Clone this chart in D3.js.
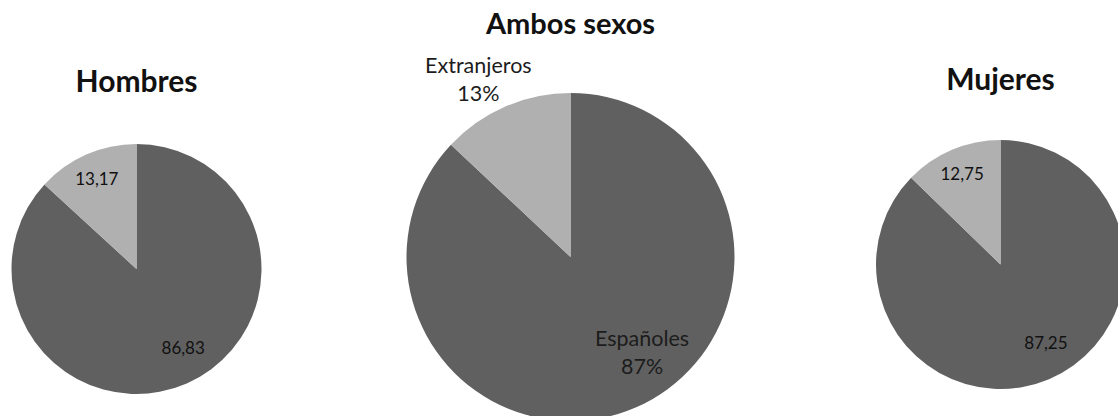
<!DOCTYPE html>
<html lang="es">
<head>
<meta charset="utf-8">
<script src="https://cdn.jsdelivr.net/npm/d3@7"></script>
<style>
  html, body { margin: 0; padding: 0; background: #ffffff; }
  svg { display: block; }
</style>
</head>
<body>
<svg id="chart" width="1118" height="416"></svg>
<script>
// Población según nacionalidad (%)
const categories = ["Españoles", "Extranjeros"];
const hombres = [86.83, 13.17];
const ambos = [87, 13];
const mujeres = [87.25, 12.75];
const titles = ["Hombres", "Ambos sexos", "Mujeres"];

const svg = d3.select("#chart");
const color = d3.scaleOrdinal().domain(categories).range(["#606060", "#b0b0b0"]);
const font = "Lato, 'Open Sans', sans-serif";

const pie = d3.pie().sort(null).value(d => d.value);

// Layout of the three pies
const panels = [
  { title: titles[0], values: hombres, cx: 136.5, cy: 269, r: 125, titleY: 92, titleSize: 30, mode: "value" },
  { title: titles[1], values: ambos, cx: 570.5, cy: 257, r: 164, titleY: 34, titleSize: 29, mode: "category" },
  { title: titles[2], values: mujeres, cx: 1000.5, cy: 264.5, r: 124.5, titleY: 90, titleSize: 30, mode: "value" }
];

const fmt = v => d3.format(".2f")(v).replace(".", ",");

panels.forEach(p => {
  const data = categories.map((c, i) => ({ cat: c, value: p.values[i] }));
  const arcs = pie(data);
  const g = svg.append("g").attr("transform", `translate(${p.cx},${p.cy})`);
  const arc = d3.arc().innerRadius(0).outerRadius(p.r);

  g.selectAll("path")
    .data(arcs)
    .join("path")
    .attr("d", arc)
    .attr("fill", d => color(d.data.cat));

  svg.append("text")
    .attr("x", p.cx)
    .attr("y", p.titleY)
    .attr("text-anchor", "middle")
    .attr("font-family", font)
    .attr("font-weight", 700)
    .attr("font-size", p.titleSize)
    .attr("fill", "#111")
    .text(p.title);

  if (p.mode === "value") {
    // data labels: a little inside the rim, nudged the way best-fit placement does
    const factors = [0.73, 0.79];
    const nudges = [[10, -5], [0, 0]];
    arcs.forEach((a, i) => {
      const lr = p.r * factors[i];
      const [x, y] = d3.arc().innerRadius(lr).outerRadius(lr).centroid(a);
      g.append("text")
        .attr("x", x + nudges[i][0])
        .attr("y", y + nudges[i][1])
        .attr("dy", "0.35em")
        .attr("text-anchor", "middle")
        .attr("font-family", font)
        .attr("font-size", 17)
        .attr("fill", "#111")
        .text(fmt(a.data.value));
    });
  } else {
    // category + percentage; the small slice gets its label outside the pie
    const factors = [0.73, 1.2];
    const nudges = [[24, -21], [-14, -3]];
    arcs.forEach((a, i) => {
      const lr = p.r * factors[i];
      const [x, y] = d3.arc().innerRadius(lr).outerRadius(lr).centroid(a);
      const t = g.append("text")
        .attr("text-anchor", "middle")
        .attr("font-family", font)
        .attr("font-size", 21.5)
        .attr("fill", "#1c1c1c");
      t.append("tspan").attr("x", x + nudges[i][0]).attr("y", y + nudges[i][1]).text(a.data.cat);
      t.append("tspan").attr("x", x + nudges[i][0]).attr("y", y + nudges[i][1] + 28).text(Math.round(a.data.value) + "%");
    });
  }
});
</script>
</body>
</html>
